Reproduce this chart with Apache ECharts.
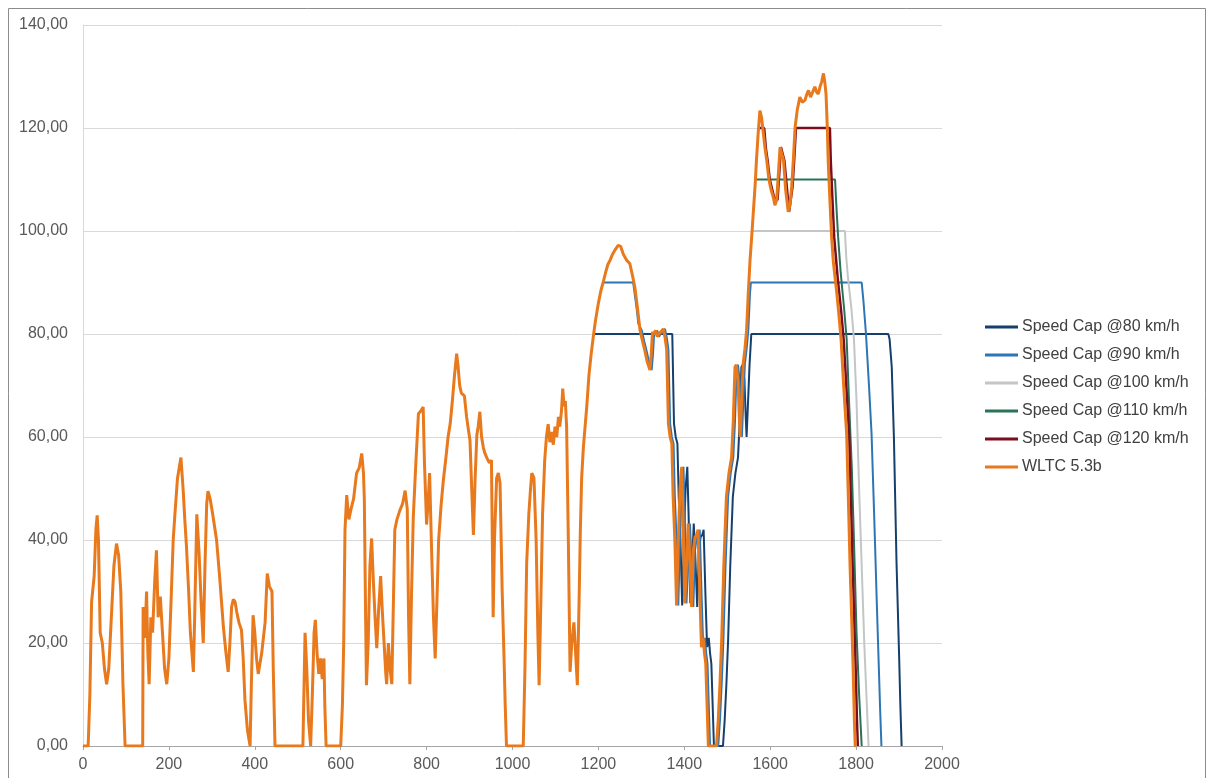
<!DOCTYPE html>
<html>
<head>
<meta charset="utf-8">
<script src="https://cdn.jsdelivr.net/npm/echarts@6/dist/echarts.min.js"></script>
<style>
html,body{margin:0;padding:0;background:#fff;}
#c{width:1207px;height:778px;}
</style>
</head>
<body>
<div id="c"></div>
<script>
// ---- data (time s, speed km/h) ----
var seriesNames = ['Speed Cap @80 km/h','Speed Cap @90 km/h','Speed Cap @100 km/h','Speed Cap @110 km/h','Speed Cap @120 km/h','WLTC 5.3b'];

var wltc = [
[0,0],[12,0],[16,10],[20,28],[26,33],[30,42],[33,44.8],[36,40],[40,22],[45,20],[50,15],[55,12],[60,15],[66,25],[72,35],[78,39.3],[83,37],[88,30],[93,12],[98,0],[139,0],
[140,27],[144,21],[148,30],[151,18],[154,12],[158,25],[162,22],[167,32],[171,38],[175,25],[180,29],[185,22],[190,15],[195,12],[200,17],[205,28],[210,40],[214,45],[220,52],[228,56],[233,50],[237,44],[241,38.6],[246,30],[250,22],[257,14.4],[260,25],[265,45],[270,38],[275,28],[280,20],[284,35],[288,47],[291,49.5],[296,48],[302,45],[311,40],[318,33],[327,23],[333,18],[338,14.4],[342,20],[346,27],[350,28.5],[354,28],[358,26],[363,24],[369,22.5],[373,17],[377,9],[383,3],[389,0],[392,12],[396,25.4],[400,22],[404,17],[408,14],[412,16],[416,18],[420,18],[424,24],[429,33.5],[434,31],[440,30],[443,15],[447,0],[512,0],
[517,22],[521,15],[525,5],[530,0],[534,10],[538,22],[541,24.5],[545,18],[549,14],[553,17],[557,13],[561,17],[563,8],[566,0],[600,0],
[604,8],[607,20],[610,42],[614,48.7],[619,44],[624,46],[630,48],[637,53],[643,54],[649,56.8],[653,53],[655,48],[658,25],[660,11.8],[664,20],[668,35],[672,40.3],[676,32],[680,25],[684,19],[688,26],[693,33],[697,26],[701,20],[705,14],[707,12],[711,20],[715,15],[719,12],[722,25],[726,42],[731,44],[738,45.8],[744,47],[750,49.6],[755,46],[758,25],[761,12],[765,30],[769,44.5],[775,55],[781,64.5],[786,65],[792,65.8],[795,55],[800,43],[804,48],[807,53],[811,40],[816,25],[820,17],[824,28],[828,40],[834,47],[839,51.6],[845,56],[850,60],[855,62.6],[860,67],[865,72],[870,76.2],[873,74],[877,70],[881,68.5],[888,68],[893,64],[898,61],[901,59.4],[905,50],[909,41],[913,52],[917,60.4],[920,62],[924,64.9],[928,60],[932,58],[935,57],[940,56],[946,55],[951,55.5],[953,40],[955,25],[958,40],[963,52],[967,53],[971,51],[976,30],[980,18],[983,8],[986,0],[1025,0],
[1029,15],[1033,35.5],[1038,45],[1042,50],[1045,53],[1050,52],[1055,40],[1059,22],[1062,11.8],[1066,28],[1070,45],[1075,55.5],[1079,60],[1083,62.5],[1087,59],[1091,61],[1095,58.5],[1099,62],[1103,60],[1107,63.9],[1110,62],[1114,65],[1117,69.4],[1120,66],[1123,67],[1126,62],[1130,40],[1134,14.4],[1138,20],[1143,24],[1147,18],[1151,11.8],[1155,28],[1158,42],[1161,52],[1165,58],[1169,62],[1173,66],[1178,72],[1183,76],[1188,79.4],
[1193,82.5],[1200,86],[1206,88.5],[1211,90],[1217,92],[1222,93.5],[1227,94.3],[1233,95.5],[1240,96.5],[1246,97.2],[1252,97],[1258,95.5],[1266,94.3],[1273,93.7],[1279,91.5],[1285,89],[1291,85],[1297,80.7],[1303,78.5],[1308,76.8],[1314,74.5],[1320,73],[1323,76],[1326,80.4],[1329,80],[1333,80.7],[1337,79.5],[1341,80],[1346,80.5],[1351,81],[1355,79.4],[1359,77],[1363,62.6],[1367,60],[1371,58.7],[1374,48.4],[1378,40],[1382,27.3],[1386,40],[1390,50],[1394,54.2],[1397,45],[1401,27.7],[1405,35],[1409,43.2],[1413,36],[1417,27],[1421,38],[1425,40.6],[1429,41],[1432,42],[1436,30],[1440,19.2],[1444,21],[1447,18],[1450,16],[1453,8],[1456,0],[1475,0],
[1479,5],[1483,12],[1487,20.5],[1492,35],[1498,48.4],[1504,53],[1510,56],[1514,63],[1518,73.6],[1521,74],[1525,71],[1528,64],[1530,60],[1533,66],[1537,74.2],[1541,77],[1545,80.7],[1549,88],[1553,94.3],[1557,99],[1561,104],[1565,109],[1568,113.7],[1572,119],[1576,123.4],[1580,122],[1584,119],[1588,116],[1592,113.7],[1597,110],[1602,108],[1607,106.6],[1611,105],[1615,106],[1619,111],[1623,116.3],[1627,115],[1631,113.7],[1636,108],[1642,103.7],[1646,105],[1650,108.6],[1654,114],[1658,120.2],[1663,123.5],[1669,126],[1675,125],[1681,125.4],[1685,126.5],[1689,127.3],[1694,126],[1699,127],[1704,128],[1708,127],[1712,126.6],[1716,128],[1720,129],[1724,130.6],[1727,129],[1730,126.6],[1733,120],[1735,113.7],[1739,106],[1743,98.8],[1747,94],[1751,91],[1755,88],[1759,84.6],[1765,79],[1771,70],[1778,60.6],[1782,48],[1786,34.8],[1790,24],[1793,15.3],[1796,5],[1798,0],[1800,0]
];

var cap80 = [
[1188,80],[1372,80],[1376,62.6],[1380,60],[1384,58.7],[1387,48.4],[1391,40],[1395,27.3],[1399,40],[1403,50],[1407,54.2],[1410,45],[1414,27.7],[1418,35],[1422,43.2],[1426,36],[1430,27],[1434,38],[1438,40.6],[1442,41],[1445,42],[1449,30],[1453,19.2],[1457,21],[1460,18],[1463,16],[1466,8],[1469,0],[1490,0],[1494,5],[1498,12],[1502,20.5],[1507,35],[1513,48.4],[1519,53],[1525,56],[1529,63],[1533,73.6],[1536,74],[1540,71],[1543,64],[1545,60],[1548,66],[1552,74.2],[1556,80],[1875,80],[1878,79],[1883,73.6],[1888,60],[1894,36],[1900,18],[1903,8],[1906,0]
];

var cap90 = [
[1211,90],[1281,90],[1289,85],[1293,82],[1301,80.7],[1307,78.5],[1312,76.8],[1318,74.5],[1324,73],[1327,76],[1330,80.4],[1333,80],[1337,80.7],[1341,79.5],[1345,80],[1350,80.5],[1355,81],[1359,79.4],[1363,77],[1367,62.6],[1371,60],[1375,58.7],[1378,48.4],[1382,40],[1386,27.3],[1390,40],[1394,50],[1398,54.2],[1401,45],[1405,27.7],[1409,35],[1413,43.2],[1417,36],[1421,27],[1425,38],[1429,40.6],[1433,41],[1436,42],[1440,30],[1444,19.2],[1448,21],[1451,18],[1454,16],[1457,8],[1460,0],[1479,0],[1483,5],[1487,12],[1491,20.5],[1496,35],[1502,48.4],[1508,53],[1514,56],[1518,63],[1522,73.6],[1525,74],[1529,71],[1532,64],[1534,60],[1537,66],[1541,74.2],[1545,77],[1549,80.7],[1553,88],[1555,90],[1813,90],[1817,86.5],[1823,80],[1830,70],[1836,60.6],[1842,45],[1848,28.3],[1853,15],[1856,7],[1859,0]
];

var cap100 = [
[1558,100],[1774,100],[1777,95],[1781,91],[1789,85],[1795,79],[1801,67],[1807,50],[1813,35],[1819,20],[1824,10],[1829,0]
];

var cap110 = [
[1566,110],[1751,110],[1754,105],[1758,99],[1764,92],[1772,85],[1778,79],[1784,66],[1790,54],[1795,40],[1801,22],[1807,10],[1813,0]
];

var cap120 = [
[1573,120],[1586,120],[1590,116],[1594,113.7],[1599,110],[1609,106.6],[1617,106],[1621,111],[1625,116.3],[1633,113.7],[1644,103.7],[1652,108.6],[1656,114],[1660,120],[1739,120],[1741,113.7],[1745,106],[1749,98.8],[1757,91],[1765,84.6],[1771,79],[1784,60],[1792,35],[1799,15],[1802,5],[1804,0]
];

var xTicks = {min:0, max:2000, interval:200};
var yTicks = {min:0, max:140, interval:20};

var colors = ['#173f6b','#2e75b6','#c3c6c6','#2b7356','#7b0d1e','#e8791c'];
var widths = [2,2,2,2,2.5,3];
var datasets = [cap80, cap90, cap100, cap110, cap120, wltc];

var chart = echarts.init(document.getElementById('c'), null, {renderer:'canvas'});
var FONT = '"Liberation Sans", Arial, sans-serif';
var series = datasets.map(function(d,i){
  return {
    name: seriesNames[i], type:'line', data:d, symbol:'none', showSymbol:false,
    lineStyle:{color:colors[i], width:widths[i]}, itemStyle:{color:colors[i]},
    z: 2+i, animation:false
  };
});

chart.setOption({
  animation:false,
  backgroundColor:'#fff',
  graphic:[{type:'rect', shape:{x:8.5,y:8.5,width:1197,height:790}, style:{fill:'none', stroke:'#8c8c8c', lineWidth:1}, z:-1}],
  grid:{left:83, right:265, top:25, bottom:32, containLabel:false},
  legend:{
    orient:'vertical', left:980, top:313, itemWidth:33, itemHeight:14, itemGap:10,
    data: seriesNames.map(function(n){return {name:n, icon:'path://M0,6 L33,6 L33,9 L0,9 Z'};}),
    textStyle:{fontFamily:FONT, fontSize:16, lineHeight:18, color:'#404040', padding:[0,0,0,-1]}
  },
  xAxis:{
    type:'value', min:xTicks.min, max:xTicks.max, interval:xTicks.interval,
    axisLine:{show:true, lineStyle:{color:'#a6a6a6', width:1}},
    axisTick:{show:true, length:4, lineStyle:{color:'#a6a6a6'}},
    axisLabel:{fontFamily:FONT, fontSize:16, color:'#595959', margin:11,
      formatter:function(v){return String(v);}},
    splitLine:{show:false}
  },
  yAxis:{
    type:'value', min:yTicks.min, max:yTicks.max, interval:yTicks.interval,
    axisLine:{show:true, lineStyle:{color:'#d9d9d9', width:1}},
    axisTick:{show:false},
    axisLabel:{fontFamily:FONT, fontSize:16, color:'#595959', margin:15,
      formatter:function(v){return v.toFixed(2).replace('.',',');}},
    splitLine:{show:true, lineStyle:{color:'#d9d9d9', width:1}}
  },
  series: series
});
</script>
</body>
</html>
